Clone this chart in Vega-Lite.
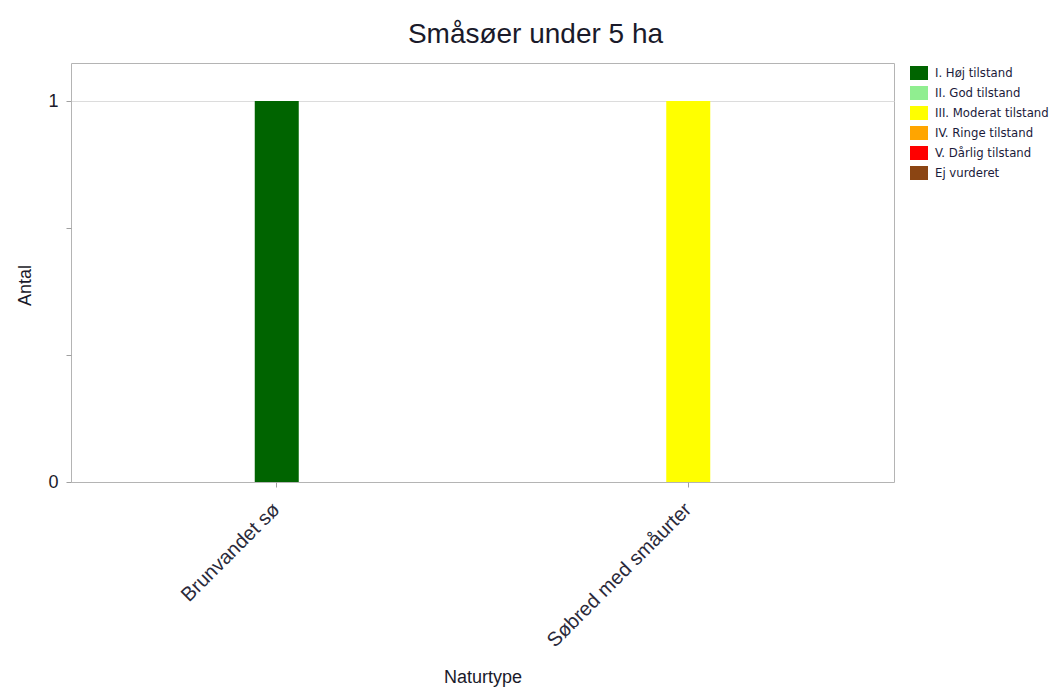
{
  "$schema": "https://vega.github.io/schema/vega-lite/v6.json",
  "autosize": {"type": "none"},
  "padding": {"left": 71, "top": 63, "right": 158, "bottom": 210},
  "width": 823,
  "height": 419,
  "background": "white",
  "config": {
    "view": {"stroke": "#b4b4b4", "strokeWidth": 1},
    "font": "Liberation Sans"
  },
  "title": {
    "text": "Småsøer under 5 ha",
    "fontSize": 28,
    "fontWeight": "normal",
    "font": "Liberation Sans",
    "color": "#1a1a2a",
    "anchor": "middle",
    "baseline": "alphabetic",
    "offset": 20,
    "dx": 53,
    "dy": 28
  },
  "data": {
    "values": [
      {"naturtype": "Brunvandet sø", "tilstand": "I. Høj tilstand", "antal": 1},
      {"naturtype": "Brunvandet sø", "tilstand": "II. God tilstand", "antal": 0},
      {"naturtype": "Brunvandet sø", "tilstand": "III. Moderat tilstand", "antal": 0},
      {"naturtype": "Brunvandet sø", "tilstand": "IV. Ringe tilstand", "antal": 0},
      {"naturtype": "Brunvandet sø", "tilstand": "V. Dårlig tilstand", "antal": 0},
      {"naturtype": "Brunvandet sø", "tilstand": "Ej vurderet", "antal": 0},
      {"naturtype": "Søbred med småurter", "tilstand": "I. Høj tilstand", "antal": 0},
      {"naturtype": "Søbred med småurter", "tilstand": "II. God tilstand", "antal": 0},
      {"naturtype": "Søbred med småurter", "tilstand": "III. Moderat tilstand", "antal": 1},
      {"naturtype": "Søbred med småurter", "tilstand": "IV. Ringe tilstand", "antal": 0},
      {"naturtype": "Søbred med småurter", "tilstand": "V. Dårlig tilstand", "antal": 0},
      {"naturtype": "Søbred med småurter", "tilstand": "Ej vurderet", "antal": 0}
    ]
  },
  "mark": {"type": "bar", "size": 44},
  "encoding": {
    "x": {
      "field": "naturtype",
      "type": "nominal",
      "title": "Naturtype",
      "sort": null,
      "scale": {"paddingInner": 0, "paddingOuter": 0},
      "axis": {
        "domain": false,
        "labelAngle": -45,
        "labelAlign": "right",
        "labelBaseline": "middle",
        "labelFontSize": 20,
        "labelColor": "#2a2a3a",
        "labelPadding": 19,
        "labelDx": -7,
        "labelDy": 0,
        "labelLimit": 500,
        "tickColor": "#a0a0a0",
        "tickSize": 5,
        "titleFontSize": 18,
        "titleFontWeight": "normal",
        "titleColor": "#1a1a2a",
        "titleY": 186,
        "titleBaseline": "top"
      }
    },
    "y": {
      "field": "antal",
      "type": "quantitative",
      "stack": "zero",
      "title": "Antal",
      "scale": {"domain": [0, 1.1], "nice": false},
      "axis": {
        "domain": false,
        "values": [0, 0.3333, 0.6667, 1],
        "labelExpr": "datum.value == 0 ? '0' : datum.value == 1 ? '1' : ''",
        "labelFontSize": 18,
        "labelColor": "#1a1a2a",
        "labelPadding": 8,
        "tickColor": "#a0a0a0",
        "tickSize": 5,
        "grid": true,
        "gridColor": {"condition": {"test": "datum.value == 1", "value": "#dcdcdc"}, "value": null},
        "titleFontSize": 18,
        "titleFontWeight": "normal",
        "titleColor": "#1a1a2a",
        "titleX": -37,
        "titleY": 222,
        "titleBaseline": "bottom"
      }
    },
    "color": {
      "field": "tilstand",
      "type": "nominal",
      "title": null,
      "scale": {
        "domain": ["I. Høj tilstand", "II. God tilstand", "III. Moderat tilstand", "IV. Ringe tilstand", "V. Dårlig tilstand", "Ej vurderet"],
        "range": ["#006400", "#90ee90", "#ffff00", "#ffa500", "#ff0000", "#8b4513"]
      },
      "legend": {
        "orient": "none",
        "legendX": 839,
        "legendY": 1,
        "symbolType": "M-1,-0.78H1V0.78H-1Z",
        "symbolSize": 324,
        "symbolOpacity": 1,
        "symbolStrokeWidth": 0,
        "labelFont": "DejaVu Sans Condensed",
        "labelFontSize": 13,
        "labelColor": "#1a1a3a",
        "labelOffset": 7,
        "rowPadding": 3,
        "labelLimit": 200
      }
    }
  }
}
